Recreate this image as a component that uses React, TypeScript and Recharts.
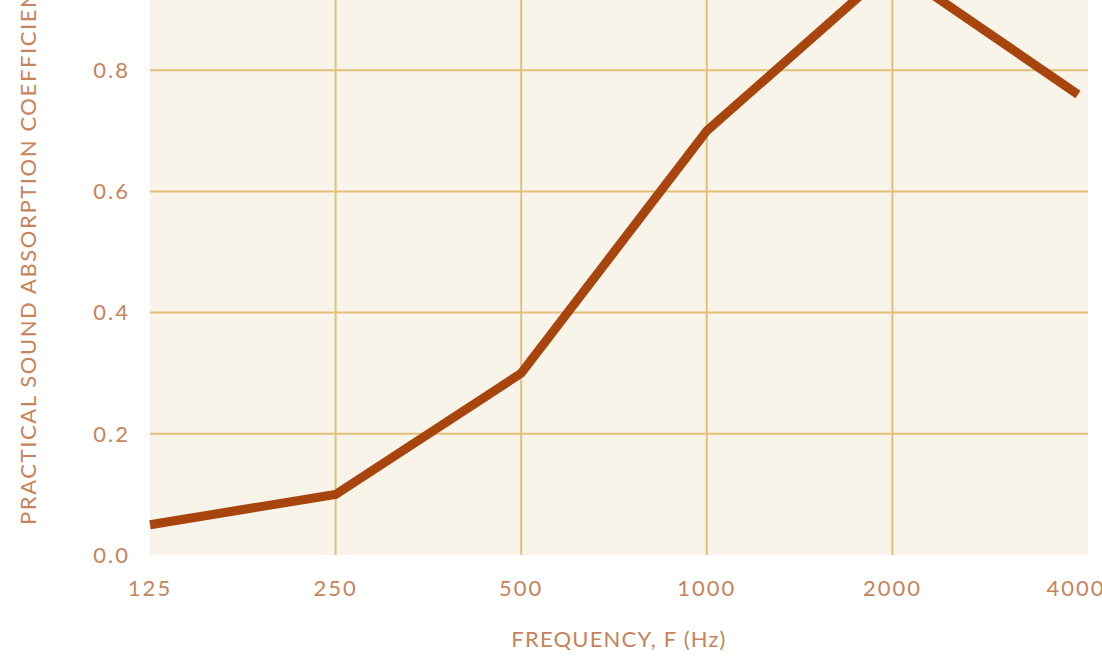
import { LineChart, Line, XAxis, YAxis, CartesianGrid } from "recharts"

const frequencies = ["125", "250", "500", "1000", "2000", "4000"]
const absorption = [0.05, 0.1, 0.3, 0.7, 0.97, 0.76]
const yTicks = [0, 0.2, 0.4, 0.6, 0.8, 1.0]

const TEXT = "#c7835b"
const LINE = "#a8450e"
const GRID = "#e2c079"
const PANEL = "#f8f4ea"
const FONT = "Lato, 'Open Sans', sans-serif"

const data = frequencies.map((f, i) => ({ freq: f, value: absorption[i] }))

function YTitle() {
  // anchored at its bottom end, runs upward past the top of the page
  return (
    <text
      x={36}
      y={586}
      transform="rotate(-90, 36, 586)"
      textAnchor="start"
      fill={TEXT}
      fontFamily={FONT}
      fontSize={22}
      letterSpacing={1.6}
    >
      PRACTICAL SOUND ABSORPTION COEFFICIENT
    </text>
  )
}

export default function App() {
  const tick = { fill: TEXT, fontSize: 22, fontFamily: FONT, letterSpacing: 2 }
  return (
    <div style={{ position: "absolute", left: 0, top: -61, width: 1102, height: 724 }}>
      <LineChart width={1102} height={724} data={data} margin={{ top: 10, right: 14, bottom: 0, left: 0 }}>
        <CartesianGrid
          fill={PANEL}
          stroke={GRID}
          strokeWidth={2}
          horizontalValues={[0.2, 0.4, 0.6, 0.8, 1.0]}
          verticalValues={["250", "500", "1000", "2000"]}
        />
        <XAxis
          dataKey="freq"
          type="category"
          axisLine={false}
          tickLine={false}
          tickSize={0}
          tickMargin={25}
          height={108}
          padding={{ left: 0, right: 10 }}
          tick={tick}
          label={{
            value: "FREQUENCY, F (Hz)",
            position: "insideBottom",
            offset: 16,
            fill: TEXT,
            fontSize: 22,
            fontFamily: FONT,
            letterSpacing: 1.2,
          }}
        />
        <YAxis
          type="number"
          domain={[0, 1]}
          ticks={yTicks}
          tickFormatter={(v: number) => v.toFixed(1)}
          axisLine={false}
          tickLine={false}
          tickSize={0}
          tickMargin={20}
          width={150}
          tick={tick}
          label={<YTitle />}
        />
        <Line
          type="linear"
          dataKey="value"
          stroke={LINE}
          strokeWidth={9}
          dot={false}
          activeDot={false}
          isAnimationActive={false}
        />
      </LineChart>
    </div>
  )
}
